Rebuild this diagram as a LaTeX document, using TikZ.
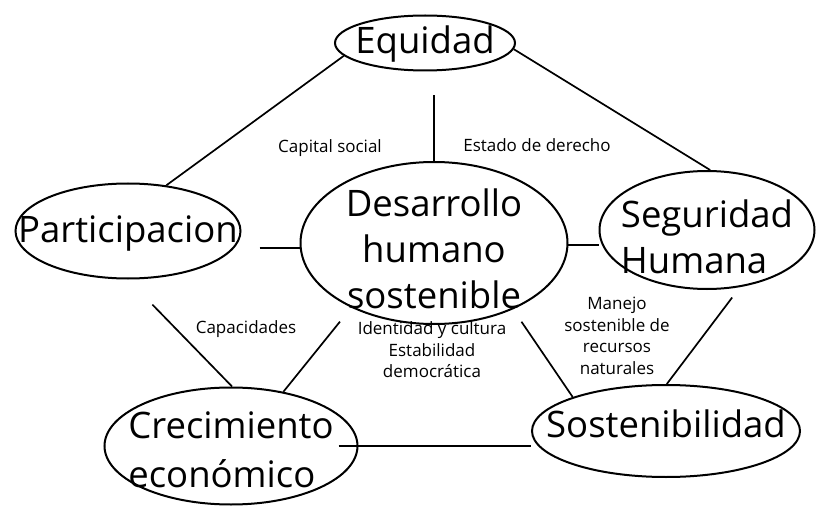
\documentclass[tikz,border=0pt]{standalone}
\usepackage{fontspec}
\setmainfont{Open Sans}
\usetikzlibrary{shapes.geometric}

\begin{document}
\begin{tikzpicture}[x=1pt,y=-1pt,
	ell/.style={draw,ellipse,line width=2pt,inner sep=0pt},
	big/.style={inner sep=0pt,font=\fontsize{36.5}{46}\selectfont},
	small/.style={inner sep=0pt,align=center,font=\fontsize{17}{21.5}\selectfont},
	link/.style={line width=1.7pt}]
	\useasboundingbox (0,0) rectangle (823,508);

	\node[ell,minimum width=180pt,minimum height=55pt,label={[big,name=equidadtxt,yshift=-1pt]center:Equidad}] (equidad) at (425,43) {};
	\node[ell,minimum width=225pt,minimum height=95pt,label={[big,name=participaciontxt,yshift=-2.5pt]center:Participacion}] (participacion) at (128,231) {};
	\node[ell,minimum width=267pt,minimum height=162pt,label={[big,align=center,name=desarrollotxt,yshift=-6pt]center:Desarrollo\\humano\\sostenible}] (desarrollo) at (434,243) {};
	\node[ell,minimum width=215pt,minimum height=118pt,label={[big,align=left,name=seguridadtxt,yshift=-7pt]center:Seguridad\\Humana}] (seguridad) at (707,230) {};
	\node[ell,minimum width=253pt,minimum height=117pt,label={[big,align=left,name=crecimientotxt,yshift=-4pt]center:Crecimiento\\[3pt]económico}] (crecimiento) at (231,446) {};
	\node[ell,minimum width=268pt,minimum height=92pt,label={[big,name=sostenibilidadtxt,yshift=7pt]center:Sostenibilidad}] (sostenibilidad) at (666,431) {};

	\node[small] (capital) at (330,147.6) {Capital social};
	\node[small] (estado) at (537,145.5) {Estado de derecho};
	\node[small] (capacidades) at (246,328.6) {Capacidades};
	\node[small] (identidad) at (432,350) {Identidad y cultura\\Estabilidad\\democrática};
	\node[small] (manejo) at (617,336) {Manejo\\sostenible de\\recursos\\naturales};

	\draw[link] (equidad.189) -- (participacion.50);
	\draw[link] (equidad.356) -- (seguridad.87);
	\draw[link,shorten <=24pt] (equidad.south -| desarrollo.north) -- (desarrollo.north);
	\draw[link,shorten <=18pt] (participacion.east |- desarrollo.182) -- (desarrollo.182);
	\draw[link] (desarrollo.359) -- (desarrollo.359 -| seguridad.west);
	\draw[link,shorten <=35pt] (participacion.south) -- (crecimiento.89);
	\draw[link,shorten <=18pt] (desarrollo.218) -- (crecimiento.46);
	\draw[link,shorten <=15pt] (desarrollo.320) -- (sostenibilidad.160);
	\draw[link,shorten <=13pt] (seguridad.300) -- (sostenibilidad.89);
	\draw[link,shorten <=-20pt] (crecimiento.east) -- (crecimiento.east -| sostenibilidad.west);

\end{tikzpicture}
\end{document}
